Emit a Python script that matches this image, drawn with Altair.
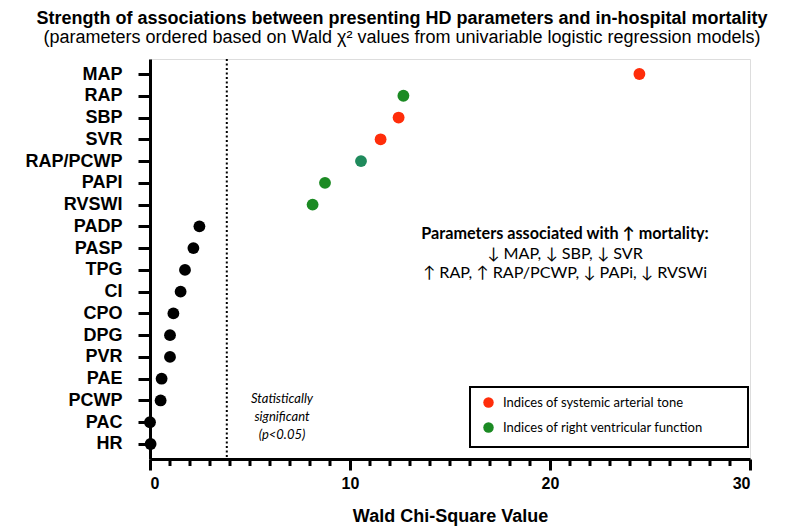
import altair as alt
import pandas as pd

params = ["MAP", "RAP", "SBP", "SVR", "RAP/PCWP", "PAPI", "RVSWI", "PADP", "PASP",
          "TPG", "CI", "CPO", "DPG", "PVR", "PAE", "PCWP", "PAC", "HR"]
wald = [24.47, 12.67, 12.43, 11.53, 10.55, 8.75, 8.13, 2.47, 2.17,
        1.75, 1.53, 1.17, 1.0, 1.0, 0.58, 0.53, 0.0, 0.03]
ART = "Indices of systemic arterial tone"
RV = "Indices of right ventricular function"
RV2 = "rv_alt"
NONE = "not significant"
groups = [ART, RV, ART, ART, RV2, RV, RV, NONE, NONE,
          NONE, NONE, NONE, NONE, NONE, NONE, NONE, NONE, NONE]
color_domain = [ART, RV, RV2, NONE]
color_range = ["#ff2d0a", "#1b8a23", "#1f8a5c", "#000000"]
threshold = 3.84
major_ticks = [0, 10, 20, 30]
minor_ticks = [v for v in range(0, 31) if v % 10 != 0]

df = pd.DataFrame({"param": params, "wald": wald, "group": groups})

W, H = 600, 400

x_scale = alt.Scale(domain=[0, 30], nice=False)
y_scale = alt.Scale(domain=params, type="point", padding=0.69)

points = alt.Chart(df).mark_circle(size=140, opacity=1).encode(
    x=alt.X("wald:Q", scale=x_scale, title="Wald Chi-Square Value",
            axis=alt.Axis(values=major_ticks, labelOverlap=False,
                          tickSize=11, tickWidth=3, tickColor="black",
                          domainWidth=3, domainColor="black",
                          labelFont="Liberation Sans", labelFontSize=16, labelFontWeight="bold",
                          labelColor="black", labelPadding=5, grid=False,
                          titleFont="Liberation Sans", titleFontSize=18, titleFontWeight="bold",
                          titleColor="black", titlePadding=16)),
    y=alt.Y("param:N", scale=y_scale, sort=params, title=None,
            axis=alt.Axis(tickSize=12, tickWidth=3, tickColor="black", domainWidth=3,
                          domainColor="black", labelFont="Liberation Sans", labelFontSize=18,
                          labelFontWeight="bold", labelColor="black", labelPadding=16,
                          grid=False)),
    color=alt.Color("group:N", scale=alt.Scale(domain=color_domain, range=color_range),
                    legend=alt.Legend(values=[ART, RV], title=None, orient="none",
                                      legendX=332, legendY=337, symbolType="circle",
                                      symbolSize=110, symbolStrokeWidth=0,
                                      labelFont="Lato", labelFontSize=13, labelColor="black",
                                      labelLimit=400, labelOffset=8, rowPadding=11, padding=0)),
)

minor = alt.Chart(pd.DataFrame({"m": minor_ticks})).mark_rule(
    color="black", strokeWidth=3
).encode(x=alt.X("m:Q", scale=x_scale), y=alt.value(H), y2=alt.value(H + 7))

thr = alt.Chart(pd.DataFrame({"t": [threshold]})).mark_rule(
    color="black", strokeWidth=2, strokeDash=[2, 2.5]
).encode(x=alt.X("t:Q", scale=x_scale))

box = alt.Chart(pd.DataFrame({"a": [0]})).mark_rect(
    fill=None, fillOpacity=0, stroke="black", strokeWidth=2
).encode(x=alt.value(320), x2=alt.value(598), y=alt.value(328), y2=alt.value(388))

ann_head = "Parameters associated with \u2191 mortality:"
ann_body = ["\u2193 MAP, \u2193 SBP, \u2193 SVR",
            "\u2191 RAP, \u2191 RAP/PCWP, \u2193 PAPi, \u2193 RVSWi"]
sig_lines = ["Statistically", "significant", "(p<0.05)"]

head = alt.Chart(pd.DataFrame({"a": [0]})).mark_text(
    font="Lato", fontSize=16.2, fontWeight="bold", color="black", align="center",
    baseline="middle").encode(text=alt.value(ann_head), x=alt.value(415), y=alt.value(175))

body = alt.Chart(pd.DataFrame({"a": [0]})).mark_text(
    font="Lato", fontSize=16.2, color="black", align="center", baseline="middle",
    lineHeight=19).encode(text=alt.value(ann_body), x=alt.value(415), y=alt.value(195))

sig = alt.Chart(pd.DataFrame({"a": [0]})).mark_text(
    font="Lato", fontSize=13, fontStyle="italic", color="black", align="center",
    baseline="middle", lineHeight=18).encode(text=alt.value(sig_lines), x=alt.value(132),
                                             y=alt.value(340))

chart = alt.layer(thr, box, minor, points, head, body, sig).properties(
    width=W, height=H,
    title=alt.TitleParams(
        text="Strength of associations between presenting HD parameters and in-hospital mortality",
        subtitle="(parameters ordered based on Wald \u03c7\u00b2 values from univariable logistic regression models)",
        font="Liberation Sans", fontSize=18, fontWeight="bold", color="black",
        subtitleFont="Liberation Sans", subtitleFontSize=18, subtitleColor="black",
        subtitlePadding=1, anchor="middle", dx=-48, offset=11),
    autosize=alt.AutoSizeParams(type="none"),
    padding={"left": 142, "top": 51, "right": 51, "bottom": 68},
).configure_view(stroke=None).configure(background="white")

chart.save("out.html", embed_options={"renderer": "svg", "actions": False})
